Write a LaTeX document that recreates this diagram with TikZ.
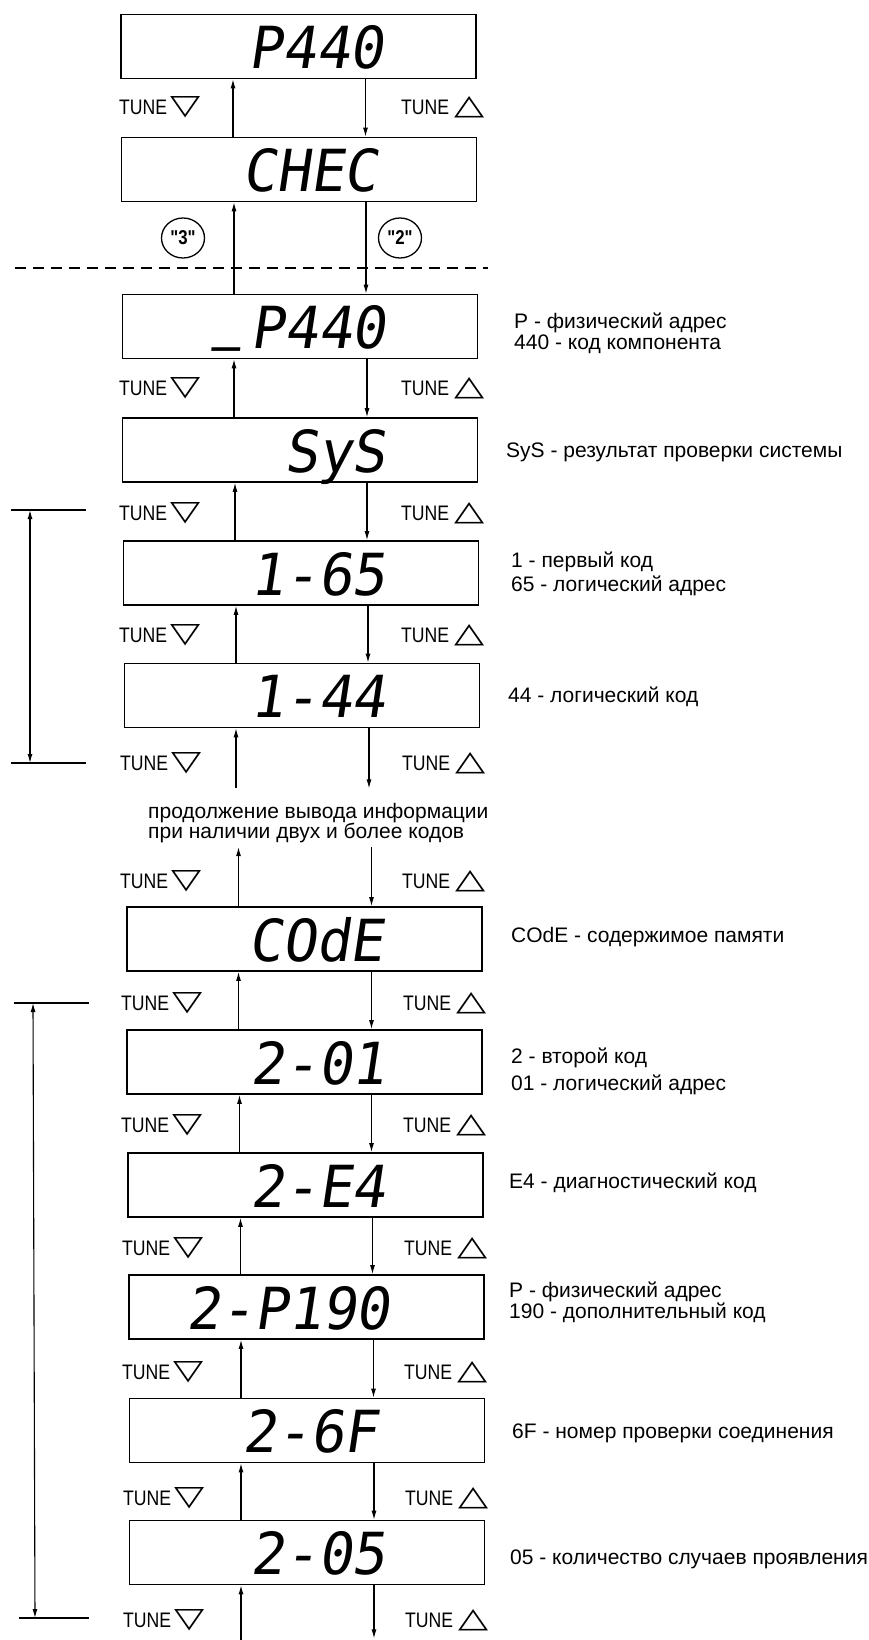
\documentclass[tikz,border=0pt]{standalone}
\usepackage{fontspec}
\setmainfont{Liberation Sans}
\newfontfamily\lcdfont{DejaVu Sans Mono}[FakeSlant=0.15,FakeStretch=0.97]
\newfontfamily\condfont{Liberation Sans}[FakeStretch=0.84]
\newfontfamily\symfont{DejaVu Sans}
\usetikzlibrary{arrows.meta,shapes.geometric,calc}
\tikzset{
  lcdbox/.style={draw,line width=1.8pt,minimum width=355pt,minimum height=64pt,inner sep=0pt},
  lcd/.style={font=\lcdfont\fontsize{58}{58}\selectfont,anchor=base east,inner sep=0pt},
  conn/.style={line width=1.1pt,-{Latex[length=9pt,width=5pt]}},
  tune/.style={font=\condfont\fontsize{21}{21}\selectfont,anchor=west,inner sep=0pt},
  desc/.style={font=\fontsize{21}{24}\selectfont,anchor=west,align=left,inner sep=0pt},
  numcirc/.style={draw,ellipse,line width=1.3pt,minimum width=43pt,minimum height=40pt,inner sep=0pt,font=\bfseries\condfont\fontsize{20}{20}\selectfont},
  brk/.style={line width=1.6pt},
  brkarrow/.style={line width=1.1pt,{Latex[length=9pt,width=5pt]}-{Latex[length=9pt,width=5pt]}},
  sep/.style={line width=1.5pt,dash pattern=on 11pt off 7pt}
}
\newcommand{\tri}[1]{{\symfont\fontsize{28}{28}\selectfont\scalebox{1.4}[1]{#1}}}
\newcommand{\tdn}{TUNE\hspace{3pt}\tri{▽}}
\newcommand{\tup}{TUNE\hspace{5pt}\tri{△}}
\newcommand{\lcdus}{\raisebox{19pt}[0pt][0pt]{\scalebox{0.85}[1.6]{\char"5F}}\hspace{8pt}}
\begin{document}
\begin{tikzpicture}[x=1pt,y=-1pt]
\useasboundingbox[fill=white] (0,0) rectangle (869,1640);
% boxes
\node[lcdbox] (b1) at (298.5,46.5) {};
\node[lcdbox] (b2) at (299,169.5) {};
\node[lcdbox] (b3) at (300,326.5) {};
\node[lcdbox] (b4) at (300,450) {};
\node[lcdbox] (b5) at (301,573) {};
\node[lcdbox] (b6) at (302,695.5) {};
\node[lcdbox] (b7) at (304.5,939) {};
\node[lcdbox] (b8) at (304.5,1062) {};
\node[lcdbox] (b9) at (305.5,1185) {};
\node[lcdbox] (b10) at (306.5,1307) {};
\node[lcdbox] (b11) at (307,1430.5) {};
\node[lcdbox] (b12) at (307,1552.5) {};
% display texts
\node[lcd] (t1) at (384,46.5+22) {P440};
\node[lcd] (t2) at (378,169.5+22) {CHEC};
\node[lcd] (t3) at (386,326.5+22) {\lcdus P440};
\node[lcd] (t4) at (386,450+22) {SyS};
\node[lcd] (t5) at (386,573+22) {1-65};
\node[lcd] (t6) at (386,695.5+22) {1-44};
\node[lcd] (t7) at (384,939+22) {COdE};
\node[lcd] (t8) at (386,1062+22) {2-01};
\node[lcd] (t9) at (386,1185+22) {2-E4};
\node[lcd] (t10) at (390,1307+22) {2-P190};
\node[lcd] (t11) at (378,1430.5+22) {2-6F};
\node[lcd] (t12) at (386,1552.5+22) {2-05};
% connectors between boxes
\foreach \a/\b in {b1/b2,b2/b3,b3/b4,b4/b5,b5/b6,b7/b8,b8/b9,b9/b10,b10/b11,b11/b12}{
  \draw[conn] ([xshift=-66pt]\b.north) -- ([xshift=-66pt]\b.north |- \a.south);
  \draw[conn] ([xshift=67pt]\a.south) -- ([xshift=67pt]\a.south |- \b.north);
}
% open ends
\coordinate (e6u) at ($(b6.south)+(-66,60)$);
\coordinate (e6d) at ($(b6.south)+(67,60)$);
\draw[conn] (e6u) -- ([xshift=-66pt]b6.south);
\draw[conn] ([xshift=67pt]b6.south) -- (e6d);
\coordinate (e7u) at ($(b7.north)+(-66,-59)$);
\coordinate (e7d) at ($(b7.north)+(67,-59)$);
\draw[conn] ([xshift=-66pt]b7.north) -- (e7u);
\draw[conn] (e7d) -- ([xshift=67pt]b7.north);
\coordinate (e12u) at ($(b12.south)+(-66,60)$);
\coordinate (e12d) at ($(b12.south)+(67,53)$);
\draw[conn] (e12u) -- ([xshift=-66pt]b12.south);
\draw[conn] ([xshift=67pt]b12.south) -- (e12d);
% TUNE labels
\foreach \y/\xl/\xr in {107/119/401,388/119/401,513/119/401,635/119/401,763/120/402,881/120/402,1003/121/403,1125/121/403,1248/122/404,1372/122/404,1498/123/405,1620/123/405}{
  \node[tune] at (\xl,\y) {\tdn};
  \node[tune] at (\xr,\y) {\tup};
}
% circles and separator
\node[numcirc] (n3) at (183,238) {"3"};
\node[numcirc] (n2) at (400,238) {"2"};
\coordinate (s1) at (15,268);
\coordinate (s2) at (488,268);
\draw[sep] (s1) -- (s2);
% brackets
\coordinate (k1l) at (11,510); \coordinate (k1r) at (86,510);
\coordinate (k1L) at (11,763); \coordinate (k1R) at (86,763);
\draw[brk] (k1l) -- (k1r);
\draw[brk] (k1L) -- (k1R);
\draw[brkarrow] (30,510) coordinate (k1t) -- (30,763) coordinate (k1b);
\coordinate (k2l) at (14,1003); \coordinate (k2r) at (89,1003);
\coordinate (k2L) at (19,1618); \coordinate (k2R) at (89,1618);
\draw[brk] (k2l) -- (k2r);
\draw[brk] (k2L) -- (k2R);
\draw[brkarrow] (33,1003) coordinate (k2t) -- (35,1618) coordinate (k2b);
% descriptions
\node[desc,font=\fontsize{21}{21}\selectfont] (d3) at (514,333) {P - физический адрес\\440 - код компонента};
\node[desc] (d4) at (506,452) {SyS - результат проверки системы};
\node[desc,font=\fontsize{21}{24}\selectfont] (d5) at (511,574) {1 - первый код\\65 - логический адрес};
\node[desc] (d6) at (508,697) {44 - логический код};
\node[desc,font=\fontsize{21}{18}\selectfont] (dm) at (148,823) {продолжение вывода информации\\при наличии двух и более кодов};
\node[desc] (d7) at (511,937) {COdE - содержимое памяти};
\node[desc,font=\fontsize{21}{27}\selectfont] (d8) at (511,1071) {2 - второй код\\01 - логический адрес};
\node[desc] (d9) at (509,1183) {E4 - диагностический код};
\node[desc,font=\fontsize{21}{18}\selectfont] (d10) at (509,1302) {P - физический адрес\\190 - дополнительный код};
\node[desc] (d11) at (512,1433) {6F - номер проверки соединения};
\node[desc] (d12) at (510,1559) {05 - количество случаев проявления};
\end{tikzpicture}
\end{document}
